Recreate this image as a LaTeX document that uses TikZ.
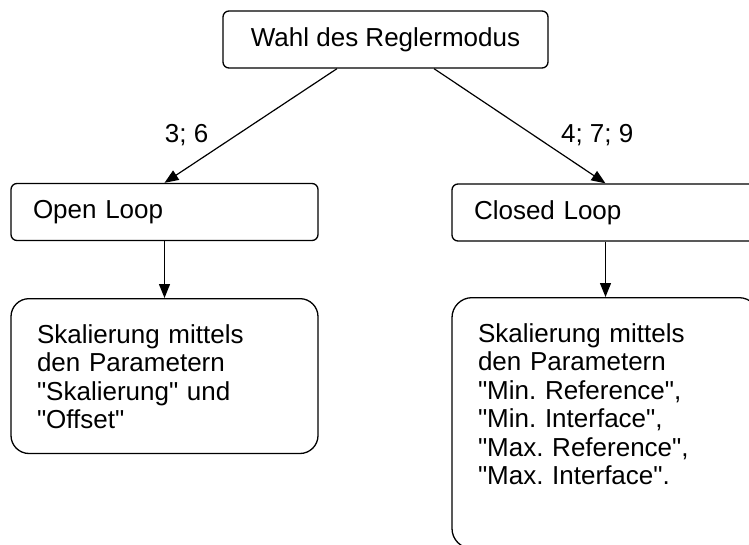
\documentclass[tikz,border=0pt]{standalone}
\usepackage{fontspec}
\newfontfamily\arialfont{Liberation Sans}
\usetikzlibrary{arrows.meta}
\frenchspacing

\begin{document}
\begin{tikzpicture}[
    x=1pt, y=-1pt,
    font=\arialfont\fontsize{26}{28.5}\selectfont,
    box/.style={rectangle, draw, line width=1.3pt, rounded corners=6pt, minimum height=57pt},
    mode/.style={box, text width=263pt, align=left, inner xsep=22pt},
    param/.style={box, rounded corners=18pt, anchor=north, text width=255pt, align=left, inner xsep=26pt, inner ysep=26pt},
    arrow/.style={-{Triangle[length=14pt, width=11pt]}, line width=1.2pt},
    lbl/.style={inner sep=0pt}
]

\clip (0,0) rectangle (749,544);

\node[box, minimum width=325pt] (root) at (385.5,39.5) {Wahl des Reglermodus};
\node[mode] (open) at (164.5,212) {Open Loop};
\node[mode] (closed) at (605.5,212.5) {Closed Loop};
\node[param, text depth=84pt] (openpar) at (164.5,298) {Skalierung mittels\\den Parametern\\"Skalierung" und\\"Offset"};
\node[param, text depth=180pt, rounded corners=20pt] (closedpar) at (605.5,297) {Skalierung mittels\\den Parametern\\"Min. Reference",\\"Min. Interface",\\"Max. Reference",\\"Max. Interface".};

\draw[arrow] ([xshift=-48.5pt]root.south) -- node[lbl, pos=0.58, left=28pt] {3; 6} (open.north);
\draw[arrow] ([xshift=48.5pt]root.south) -- node[lbl, pos=0.58, right=27pt] {4; 7; 9} (closed.north);
\draw[arrow] (open) -- (openpar);
\draw[arrow] (closed) -- (closedpar);

\end{tikzpicture}
\end{document}
